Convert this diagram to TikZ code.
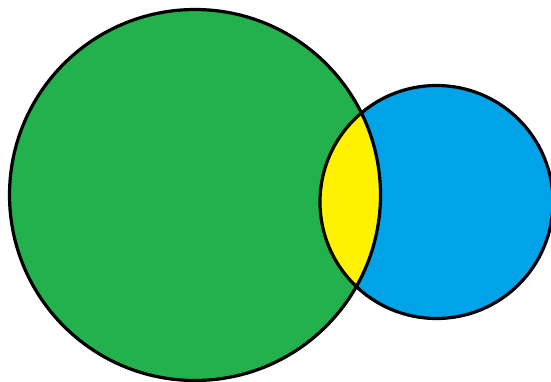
\documentclass[tikz,border=0pt]{standalone}
\definecolor{pgreen}{HTML}{22B14C}
\definecolor{pblue}{HTML}{00A2E8}
\definecolor{pyellow}{HTML}{FFF200}
\tikzset{ring/.style={draw=black,line width=3.2pt}}
\begin{document}
\begin{tikzpicture}[x=1pt,y=-1pt]
\useasboundingbox (0,0) rectangle (551,382);
\clip (0,0) rectangle (551,382);
\coordinate (G) at (195,195);
\coordinate (B) at (436.5,202);
\fill[pgreen] (G) circle (185.5);
\fill[pblue] (B) circle (116.5);
\begin{scope}
\clip (G) circle (185.5);
\fill[pyellow] (B) circle (116.5);
\end{scope}
\draw[ring] (G) circle (185.5);
\draw[ring] (B) circle (116.5);
\end{tikzpicture}
\end{document}
